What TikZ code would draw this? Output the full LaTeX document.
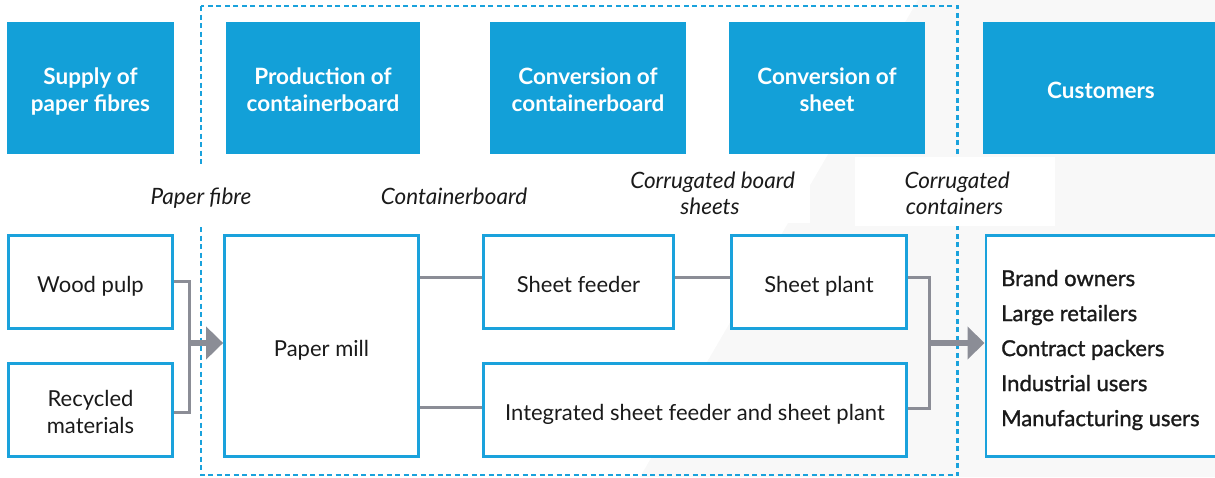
\documentclass[tikz,border=0pt]{standalone}
\usepackage{fontspec}
\setmainfont{Lato}
\newfontfamily\listfont[FakeBold=1.2]{Lato}
\usetikzlibrary{arrows.meta}

\definecolor{hdrblue}{HTML}{13A0D8}
\definecolor{lineblue}{HTML}{1AA2DC}
\definecolor{connGray}{HTML}{8B8D96}
\definecolor{bgGray}{HTML}{F8F8F8}
\definecolor{ink}{HTML}{1A1A1A}

% strut for the first line of a multi-line label
\newcommand{\capstrut}[1][25]{\rule{0pt}{#1pt}}

% struts that fix the height of the first line and the depth of the last one,
% so every text block sits at the same place in its box
\tikzset{
  struts/.style={execute at begin node={\rule{0pt}{#1pt}},
                 execute at end node={\rule[-5pt]{0pt}{0pt}}},
  hdr/.style={fill=hdrblue, draw=none, text=white, font=\bfseries\fontsize{22.5}{27}\selectfont,
    align=center, inner sep=0pt, struts=25},
  stage/.style={draw=lineblue, line width=2.8pt, fill=white, text=ink,
    font=\fontsize{22}{27}\selectfont, align=center, inner sep=0pt, struts=25},
  flowlabel/.style={fill=white, text=ink, font=\itshape\fontsize{22.5}{26}\selectfont,
    align=center, inner sep=0pt, struts=24},
  conn/.style={draw=connGray, line width=3pt},
  bigarrow/.style={draw=connGray, line width=6pt,
    -{Triangle[width=32pt,length=17pt]}, fill=connGray},
  scopebox/.style={draw=lineblue, line width=2.2pt, dash pattern=on 5pt off 3.5pt}
}

\begin{document}
\begin{tikzpicture}[x=1pt,y=-1pt]
  \useasboundingbox (0,0) rectangle (1215,477);
  \clip (0,0) rectangle (1215,477);

  % soft grey backdrop on the right-hand side
  \fill[bgGray] (918,0) -- (1215,0) -- (1215,477) -- (640,477) -- cycle;

  % dashed frame around the packaging stages
  \draw[scopebox] (201,6) rectangle (957.5,475);

  % stage headings
  \node[hdr, minimum width=167, minimum height=132] (h1) at (90.5,88)
    {\capstrut Supply of\\paper fibres};
  \node[hdr, minimum width=194, minimum height=132] (h2) at (323,88)
    {\capstrut Production of\\containerboard};
  \node[hdr, minimum width=196, minimum height=132] (h3) at (588,88)
    {\capstrut Conversion of\\containerboard};
  \node[hdr, minimum width=196, minimum height=132] (h4) at (827,88)
    {\capstrut Conversion of\\sheet};
  \node[hdr, minimum width=236, minimum height=132] (h5) at (1101,88)
    {Customers};

  % flow labels between the headings and the stages
  \node[flowlabel, minimum width=108, minimum height=62] (lf) at (201,195) {Paper fibre};
  \node[flowlabel, minimum width=160, minimum height=40] (lc) at (454,195) {Containerboard};
  \node[flowlabel, minimum width=200, minimum height=62] (ls) at (710,192)
    {\capstrut[24] Corrugated board\\sheets};
  \node[flowlabel, minimum width=200, minimum height=69] (lk) at (954.5,191.5)
    {\capstrut[24] Corrugated\\containers};

  % stages
  \node[stage, minimum width=164, minimum height=93] (wp) at (90.5,282) {Wood pulp};
  \node[stage, minimum width=164, minimum height=93] (rc) at (90.5,410)
    {\capstrut Recycled\\materials};
  \node[stage, minimum width=194, minimum height=221] (pm) at (321.5,346) {Paper mill};
  \node[stage, minimum width=190, minimum height=93] (sf) at (578.5,282) {Sheet feeder};
  \node[stage, minimum width=175, minimum height=93] (sp) at (819,282) {Sheet plant};
  \node[stage, minimum width=423, minimum height=93] (ig) at (695,410)
    {Integrated sheet feeder and sheet plant};
  \node[stage, minimum width=240, minimum height=221, anchor=west] (cu) at (984.5,346) {};
  \node[text=ink, font=\listfont\fontsize{22}{35}\selectfont, align=left, anchor=west,
    inner sep=0pt] (cl) at (1001,350)
    {Brand owners\\Large retailers\\Contract packers\\Industrial users\\Manufacturing users};

  % fibre supply into the paper mill
  \coordinate (jL) at (189,343);
  \draw[conn] ([yshift=1pt]wp.east) -| (jL) |- ([yshift=-2pt]rc.east);
  \draw[bigarrow] (jL) -- (jL -| pm.west);

  % containerboard into the converters
  \draw[conn] ([yshift=5pt]pm.east |- sf.west) -- ([yshift=5pt]sf.west);
  \draw[conn] ([yshift=5pt]sf.east) -- ([yshift=5pt]sp.west);
  \draw[conn] ([yshift=3pt]pm.east |- ig.west) -- ([yshift=3pt]ig.west);

  % containers out to customers
  \coordinate (jR) at (929,343);
  \draw[conn] ([yshift=5pt]sp.east) -| (jR) |- ([yshift=2pt]ig.east);
  \draw[bigarrow] (jR) -- (jR -| cu.west);
\end{tikzpicture}
\end{document}
